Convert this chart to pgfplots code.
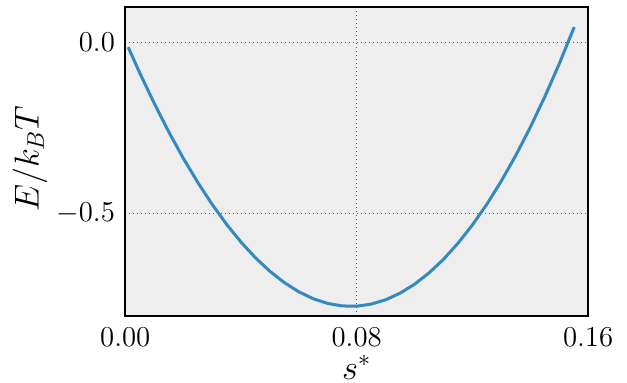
\documentclass[border=0pt]{standalone}
\usepackage{pgfplots}
\pgfplotsset{compat=1.18}
\definecolor{bgc}{RGB}{238,238,238}
\definecolor{linec}{HTML}{348ABD}
\begin{document}
\begin{tikzpicture}
\begin{axis}[
  name=ax,
  scale only axis,
  width=231.4pt, height=154.5pt,
  xmin=0, xmax=0.16, ymin=-0.8, ymax=0.102,
  xtick={0,0.08,0.16}, xticklabels={$0.00$,$0.08$,$0.16$},
  ytick={0,-0.5}, yticklabels={$0.0$,$-0.5$},
  major tick length=0pt,
  grid=major,
  major grid style={black!65, line width=0.5pt, dash pattern=on 0.6pt off 1.4pt},
  axis line style={black, line width=0.8pt},
  axis background/.style={fill=bgc},
  tick label style={font=\fontsize{14}{16}\selectfont},
  xticklabel style={anchor=base, inner sep=0pt, yshift=-15.2pt},
  yticklabel style={anchor=east, inner sep=0pt, xshift=-5pt},
  xlabel={$s^{*}$},
  ylabel={$E/k_BT$},
  label style={font=\fontsize{18}{20}\selectfont},
  xlabel style={at={(axis description cs:0.5,0)}, anchor=base, inner sep=0pt, yshift=-31.5pt},
  ylabel style={at={(axis description cs:-0.2057,0.51)}, anchor=center, rotate=0},
]
\addplot[linec, line width=1.5pt] coordinates {
(0.001,-0.0144)
(0.005,-0.0897)
(0.010,-0.1784)
(0.015,-0.2612)
(0.020,-0.3379)
(0.025,-0.4085)
(0.030,-0.4730)
(0.035,-0.5313)
(0.040,-0.5834)
(0.045,-0.6292)
(0.050,-0.6687)
(0.055,-0.7018)
(0.060,-0.7285)
(0.065,-0.7488)
(0.070,-0.7626)
(0.075,-0.7698)
(0.080,-0.7705)
(0.085,-0.7645)
(0.090,-0.7519)
(0.095,-0.7325)
(0.100,-0.7064)
(0.105,-0.6735)
(0.110,-0.6337)
(0.115,-0.5870)
(0.120,-0.5334)
(0.125,-0.4728)
(0.130,-0.4052)
(0.135,-0.3305)
(0.140,-0.2486)
(0.145,-0.1597)
(0.150,-0.0635)
(0.1552,0.0443)
};
\end{axis}
\pgfresetboundingbox
\path ([xshift=-62.65pt,yshift=-33.35pt]ax.south west) rectangle ([xshift=19.45pt,yshift=3.65pt]ax.north east);
\end{tikzpicture}
\end{document}
